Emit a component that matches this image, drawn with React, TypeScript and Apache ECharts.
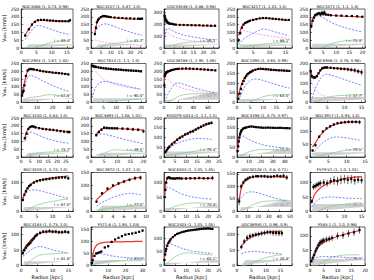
import React, { useEffect, useRef } from "react";
import * as echarts from "echarts";

// ---------- data ----------
const TITLES = [
  "NGC4088 (1, 0.74, 0.98)", "NGC4157 (1, 0.87, 1.0)", "UGC03546 (1, 0.88, 0.98)", "NGC4217 (1, 1.01, 1.0)", "NGC5371 (1, 1.1, 1.0)",
  "NGC2903 (1, 1.67, 1.02)", "NGC7814 (1, 1.1, 1.0)", "UGC06786 (1, 1.95, 1.06)", "NGC1090 (1, 0.65, 0.99)", "NGC6946 (1, 0.76, 0.98)",
  "NGC4100 (1, 0.83, 1.0)", "NGC3893 (1, 1.08, 1.01)", "ESO079-G014 (1, 1.1, 1.0)", "NGC3198 (1, 0.75, 0.97)", "NGC3917 (1, 0.94, 1.0)",
  "NGC4559 (1, 0.74, 1.0)", "NGC3972 (1, 1.07, 1.0)", "NGC6503 (1, 1.05, 1.05)", "UGC00128 (1, 0.8, 0.71)", "F579-V1 (1, 1.0, 1.01)",
  "NGC4183 (1, 0.73, 1.0)", "F571-8 (1, 1.93, 1.03)", "NGC2403 (1, 1.05, 1.05)", "UGC06930 (1, 0.96, 0.9)", "F583-1 (1, 1.0, 0.96)",
];
const INCL = ["69.4", "81.7", "56.1", "88.1", "75.3", "67.6", "90.0", "67.7", "63.5", "37.7", "73.7", "49.5", "79.4", "71.3", "79.5", "67.0", "77.0", "74.8", "40.7", "26.3", "81.8", "87.1", "63.1", "28.8", "38.3"];
const X_MAX = [17, 28, 28, 17, 21, 33, 22, 75, 21, 16, 29, 21, 25, 46, 15, 16.5, 10, 25, 52, 16, 16.5, 32, 25, 19, 20];
const X_STEP = [5, 5, 5, 5, 5, 10, 5, 20, 5, 5, 5, 5, 5, 10, 5, 5, 2, 5, 10, 5, 5, 10, 5, 5, 5];
const Y_MAX = [250, 250, 330, 250, 250, 250, 250, 250, 200, 200, 250, 250, 200, 200, 150, 135, 150, 135, 155, 135, 125, 160, 140, 125, 130];
const Y_STEP = [50, 50, 100, 50, 50, 50, 50, 50, 50, 50, 50, 50, 50, 50, 50, 50, 50, 50, 50, 50, 50, 50, 50, 50, 50];
const BAND = [12, 12, 15, 12, 14, 12, 14, 9, 9, 14, 14, 14, 14, 8, 9, 8, 11, 6, 9, 13, 7, 11, 5, 9, 11];

const ngc4088R = [1.3, 2.5, 3.5, 4.5, 5.5, 6.5, 7.5, 8.5, 9.5, 10.5, 11.5, 12.5, 13.5, 14.5, 15.5, 16];
const ngc4088V = [80, 120, 150, 168, 178, 180, 180, 178, 176, 175, 173, 172, 172, 172, 172, 178];
const ngc4088Err = [8, 6, 6, 5, 5, 5, 5, 5, 5, 5, 5, 5, 5, 5, 6, 8];
const ngc4088Fit = [85, 120, 150, 170, 178, 178, 177, 176, 175, 174, 173, 172, 171, 170, 170, 170];
const ngc4088Disk = [55, 90, 115, 135, 145, 142, 135, 128, 122, 115, 108, 102, 97, 92, 88, 85];
const ngc4088Gas = [0, 0, 0, 2, 8, 15, 22, 28, 33, 37, 40, 42, 44, 45, 45, 45];

const ngc4157R = [2, 2.5, 3, 3.5, 4, 5, 6, 7, 8, 9, 10, 12, 14, 16, 18, 20, 22, 24, 25, 26];
const ngc4157V = [90, 130, 165, 178, 188, 198, 205, 205, 202, 200, 198, 195, 193, 192, 190, 190, 188, 188, 187, 188];
const ngc4157Err = [10, 8, 6, 6, 5, 5, 5, 5, 5, 5, 5, 5, 5, 5, 5, 5, 5, 6, 6, 6];
const ngc4157Fit = [100, 135, 160, 175, 185, 195, 200, 200, 199, 198, 196, 194, 192, 190, 188, 187, 186, 185, 184, 184];
const ngc4157Disk = [95, 110, 120, 130, 138, 148, 153, 155, 153, 150, 146, 138, 128, 118, 110, 102, 95, 88, 85, 82];
const ngc4157Bulge = [52, 50, 48, 46, 44, 41, 38, 36, 34, 32, 30, 28, 26, 24, 22, 20, 19, 18, 17, 17];
const ngc4157Gas = [0, 0, 0, 0, 0, 5, 12, 18, 22, 25, 28, 30, 32, 35, 38, 40, 42, 44, 45, 45];

const ugc03546R = [0.3, 0.6, 1, 1.5, 2, 2.5, 3, 4, 5, 6, 8, 10, 12, 14, 16, 18, 20, 22, 24, 26];
const ugc03546V = [270, 250, 235, 225, 215, 210, 205, 205, 200, 198, 195, 195, 194, 193, 192, 192, 190, 190, 188, 188];
const ugc03546Err = [40, 35, 30, 20, 15, 10, 8, 8, 6, 6, 6, 6, 6, 6, 6, 6, 6, 6, 8, 10];
const ugc03546Fit = [260, 245, 230, 220, 212, 207, 203, 200, 198, 197, 196, 195, 194, 193, 192, 191, 190, 189, 188, 187];
const ugc03546Disk = [60, 110, 145, 160, 165, 164, 160, 150, 140, 132, 120, 110, 102, 95, 90, 85, 80, 75, 72, 70];
const ugc03546Bulge = [190, 165, 150, 140, 130, 122, 115, 105, 97, 90, 80, 72, 66, 61, 57, 54, 51, 48, 46, 45];
const ugc03546Gas = [0, 2, 5, 8, 12, 15, 18, 22, 26, 30, 38, 44, 48, 50, 52, 53, 54, 55, 55, 55];

const ngc4217R = [0.5, 1, 1.5, 2, 2.5, 3, 3.5, 4, 5, 6, 7, 8, 9, 10, 11, 12, 13, 14, 15, 16];
const ngc4217V = [50, 95, 130, 150, 160, 165, 170, 175, 180, 185, 190, 192, 192, 190, 188, 186, 184, 182, 180, 180];
const ngc4217Err = [15, 10, 8, 6, 5, 5, 5, 5, 5, 5, 5, 5, 5, 5, 5, 5, 5, 5, 5, 5];
const ngc4217Fit = [80, 110, 135, 150, 160, 166, 171, 175, 181, 186, 189, 190, 190, 189, 187, 185, 183, 181, 179, 178];
const ngc4217Disk = [20, 35, 48, 58, 65, 72, 78, 84, 95, 105, 115, 122, 120, 115, 108, 102, 96, 90, 85, 80];
const ngc4217Bulge = [80, 100, 110, 112, 110, 108, 105, 102, 97, 92, 88, 84, 80, 77, 74, 71, 68, 66, 64, 62];
const ngc4217Gas = [0, 0, 2, 5, 8, 10, 12, 14, 17, 20, 22, 25, 27, 29, 31, 32, 33, 34, 35, 35];

const ngc5371R = [0.5, 1, 1.5, 2, 2.5, 3, 3.5, 4, 4.5, 5, 5.5, 6, 7, 8, 10, 12, 14, 16, 18, 20];
const ngc5371V = [140, 175, 195, 210, 215, 220, 222, 215, 225, 220, 228, 215, 212, 210, 208, 207, 205, 205, 203, 200];
const ngc5371Err = [10, 10, 8, 8, 8, 8, 10, 12, 15, 15, 15, 10, 8, 6, 6, 6, 6, 6, 6, 6];
const ngc5371Fit = [150, 185, 205, 215, 220, 222, 222, 221, 220, 218, 217, 215, 212, 210, 207, 205, 203, 202, 201, 200];
const ngc5371Disk = [125, 160, 185, 198, 205, 207, 206, 203, 199, 195, 190, 185, 175, 165, 150, 138, 127, 118, 110, 103];
const ngc5371Gas = [0, 0, 0, 0, 0, 0, 0, 0, 2, 5, 8, 12, 20, 27, 36, 43, 47, 50, 50, 50];

const ngc2903R = [0.5, 1, 1.5, 2, 3, 4, 5, 6, 7, 8, 10, 12, 14, 16, 18, 20, 22, 24, 26, 28, 30];
const ngc2903V = [45, 65, 75, 110, 170, 205, 212, 215, 213, 212, 208, 204, 200, 197, 195, 192, 190, 188, 186, 183, 180];
const ngc2903Err = [10, 10, 8, 8, 6, 5, 5, 5, 5, 5, 5, 5, 5, 5, 5, 5, 5, 5, 5, 5, 6];
const ngc2903Fit = [60, 80, 100, 125, 170, 200, 212, 214, 213, 211, 207, 203, 200, 197, 195, 192, 190, 188, 186, 184, 182];
const ngc2903Disk = [40, 60, 80, 100, 135, 160, 172, 175, 172, 168, 158, 148, 137, 128, 118, 108, 100, 92, 85, 78, 72];
const ngc2903Gas = [0, 0, 5, 15, 25, 30, 32, 33, 34, 35, 37, 40, 45, 48, 50, 50, 48, 45, 42, 40, 38];

const ngc7814R = [0.5, 1, 1.5, 2, 3, 4, 5, 6, 7, 8, 9, 10, 11, 12, 13, 14, 15, 16, 17, 18, 19, 20];
const ngc7814V = [235, 232, 230, 228, 225, 222, 220, 218, 216, 215, 213, 212, 211, 210, 208, 207, 206, 205, 204, 203, 202, 200];
const ngc7814Err = [10, 10, 9, 9, 8, 8, 8, 8, 8, 8, 8, 8, 8, 8, 8, 8, 8, 8, 8, 8, 8, 8];
const ngc7814Fit = [240, 235, 231, 228, 224, 221, 219, 217, 215, 214, 212, 211, 210, 209, 207, 206, 205, 204, 203, 202, 201, 200];
const ngc7814Disk = [30, 60, 85, 100, 120, 130, 135, 135, 133, 130, 126, 122, 118, 114, 110, 106, 102, 98, 95, 92, 88, 85];
const ngc7814Bulge = [240, 225, 210, 198, 178, 162, 150, 140, 132, 125, 119, 114, 110, 106, 102, 99, 96, 93, 91, 89, 87, 85];
const ngc7814Gas = [0, 0, 0, 0, 0, 0, 0, 2, 4, 6, 8, 10, 12, 13, 14, 15, 16, 17, 18, 19, 20, 20];

const ugc06786R = [0.5, 1, 1.5, 2, 3, 4, 5, 6, 8, 10, 12, 15, 18, 20, 25, 30, 35, 40, 45, 50, 55, 60, 65, 70];
const ugc06786V = [110, 170, 180, 185, 190, 195, 198, 200, 203, 207, 210, 213, 215, 216, 217, 218, 217, 216, 215, 213, 212, 210, 208, 206];
const ugc06786Err = [15, 10, 8, 6, 5, 5, 5, 5, 5, 5, 5, 5, 5, 5, 5, 5, 5, 5, 5, 5, 5, 5, 6, 6];
const ugc06786Fit = [130, 165, 178, 184, 190, 194, 197, 200, 203, 206, 209, 212, 214, 215, 216, 216, 215, 214, 213, 212, 211, 209, 207, 205];
const ugc06786Disk = [5, 10, 15, 20, 30, 40, 50, 60, 75, 90, 105, 120, 125, 125, 120, 112, 104, 96, 89, 83, 77, 72, 67, 63];
const ugc06786Bulge = [180, 185, 180, 175, 165, 158, 150, 145, 135, 127, 120, 111, 104, 100, 92, 86, 80, 75, 71, 68, 65, 62, 60, 58];
const ugc06786Gas = [0, 0, 0, 0, 0, 2, 4, 6, 10, 15, 20, 28, 35, 40, 48, 52, 55, 56, 56, 56, 56, 55, 55, 55];

const ngc1090R = [0.5, 1, 1.5, 2, 2.5, 3, 3.5, 4, 4.5, 5, 5.5, 6, 7, 8, 9, 10, 11, 12, 13, 14, 15, 16, 17, 18, 19, 20];
const ngc1090V = [20, 45, 70, 95, 110, 125, 135, 145, 150, 155, 158, 163, 168, 172, 173, 172, 171, 170, 168, 167, 166, 165, 165, 164, 163, 162];
const ngc1090Err = [5, 5, 5, 5, 5, 5, 5, 5, 5, 5, 5, 5, 5, 5, 5, 5, 5, 5, 5, 5, 5, 5, 5, 5, 5, 5];
const ngc1090Fit = [30, 60, 85, 103, 118, 130, 140, 147, 153, 158, 162, 165, 168, 170, 170, 170, 169, 168, 167, 166, 165, 164, 163, 162, 161, 160];
const ngc1090Disk = [10, 25, 40, 55, 70, 82, 92, 100, 107, 112, 116, 118, 120, 119, 117, 113, 109, 105, 100, 96, 92, 88, 84, 80, 77, 74];
const ngc1090Gas = [0, 0, 0, 0, 0, 0, 0, 0, 0, 2, 5, 8, 14, 20, 25, 30, 33, 36, 38, 39, 40, 40, 41, 41, 41, 41];

const ngc6946R = [0.2, 0.5, 1, 1.5, 2, 2.5, 3, 3.5, 4, 4.5, 5, 6, 7, 8, 9, 10, 11, 12, 13, 14, 15];
const ngc6946V = [160, 135, 128, 128, 135, 150, 165, 175, 178, 180, 180, 178, 176, 175, 173, 172, 170, 168, 165, 160, 155];
const ngc6946Err = [15, 10, 8, 6, 6, 6, 6, 6, 6, 6, 6, 6, 6, 6, 8, 8, 10, 10, 12, 12, 15];
const ngc6946Fit = [165, 140, 130, 130, 138, 152, 165, 173, 177, 178, 178, 177, 176, 175, 174, 172, 170, 167, 164, 160, 157];
const ngc6946Disk = [5, 20, 45, 70, 90, 108, 122, 133, 140, 144, 145, 142, 136, 130, 124, 118, 112, 106, 100, 94, 88];
const ngc6946Bulge = [150, 110, 80, 65, 55, 48, 42, 38, 35, 32, 30, 27, 25, 24, 23, 22, 22, 22, 22, 21, 21];
const ngc6946Gas = [0, 0, 2, 5, 8, 11, 14, 17, 20, 23, 25, 30, 33, 35, 36, 36, 38, 40, 40, 38, 36];

const ngc4100R = [2, 3, 4, 5, 6, 7, 8, 10, 12, 14, 16, 18, 20, 22, 24, 26, 27];
const ngc4100V = [120, 150, 180, 192, 197, 195, 190, 185, 180, 178, 175, 173, 170, 166, 162, 160, 160];
const ngc4100Err = [8, 8, 8, 8, 8, 8, 8, 8, 8, 8, 8, 8, 8, 8, 8, 8, 8];
const ngc4100Fit = [125, 160, 185, 195, 196, 193, 190, 185, 181, 178, 175, 172, 170, 168, 166, 165, 164];
const ngc4100Disk = [100, 125, 150, 160, 158, 153, 148, 138, 128, 120, 112, 106, 100, 96, 92, 89, 88];
const ngc4100Gas = [0, 3, 8, 15, 20, 22, 24, 27, 29, 31, 32, 33, 34, 35, 36, 36, 37];

const ngc3893R = [2, 3, 4, 5, 6, 7, 8, 9, 10, 12, 14, 16, 18, 20];
const ngc3893V = [140, 160, 175, 188, 186, 185, 184, 184, 183, 182, 180, 177, 175, 165];
const ngc3893Err = [10, 10, 10, 10, 10, 8, 8, 8, 8, 8, 10, 10, 10, 12];
const ngc3893Fit = [145, 165, 178, 185, 186, 185, 184, 184, 183, 181, 179, 177, 175, 173];
const ngc3893Disk = [140, 145, 147, 146, 143, 139, 135, 130, 126, 117, 108, 100, 92, 85];
const ngc3893Gas = [15, 16, 18, 22, 30, 38, 44, 47, 46, 44, 42, 40, 37, 35];

const eso079R = [0.6, 1.2, 1.8, 2.4, 3.6, 4.8, 6, 7.2, 8.4, 9.6, 10.8, 12, 13.2, 14.4, 15.6, 16.8, 18, 19.2, 20.4, 21.6];
const eso079V = [25, 35, 45, 52, 65, 75, 88, 98, 105, 115, 120, 128, 132, 140, 148, 155, 162, 168, 172, 175];
const eso079Err = [8, 8, 8, 8, 8, 8, 8, 8, 8, 8, 8, 8, 8, 8, 8, 8, 8, 8, 8, 8];
const eso079Fit = [25, 35, 45, 55, 68, 80, 90, 100, 108, 115, 122, 129, 136, 142, 148, 154, 160, 166, 170, 175];
const eso079Disk = [20, 30, 38, 45, 55, 63, 70, 76, 81, 85, 88, 91, 93, 94, 95, 95, 94, 93, 92, 90];
const eso079Gas = [5, 7, 9, 10, 12, 14, 16, 18, 20, 22, 24, 26, 28, 30, 33, 36, 38, 40, 41, 42];

const ngc3198R = [0.5, 1, 1.5, 2, 2.5, 3, 3.5, 4, 5, 6, 7, 8, 10, 12, 14, 16, 18, 20, 22, 24, 26, 28, 30, 32, 34, 36, 38, 40, 42, 44];
const ngc3198V = [30, 55, 80, 100, 115, 125, 133, 138, 145, 148, 150, 152, 155, 157, 155, 153, 152, 151, 150, 150, 151, 150, 150, 149, 149, 150, 149, 148, 148, 147];
const ngc3198Err = [4, 4, 4, 4, 4, 4, 4, 4, 4, 4, 4, 4, 4, 4, 4, 4, 4, 4, 4, 4, 4, 4, 4, 4, 4, 4, 4, 4, 4, 4];
const ngc3198Fit = [35, 65, 90, 108, 120, 128, 135, 140, 146, 150, 152, 154, 155, 155, 154, 153, 152, 151, 150, 150, 150, 150, 150, 149, 149, 149, 148, 148, 148, 147];
const ngc3198Disk = [30, 55, 75, 90, 100, 106, 109, 110, 108, 104, 100, 97, 90, 84, 78, 73, 69, 65, 62, 59, 57, 55, 53, 51, 50, 49, 48, 47, 46, 45];
const ngc3198Gas = [0, 0, 0, 0, 2, 5, 8, 10, 14, 17, 20, 22, 26, 30, 33, 35, 37, 38, 38, 38, 38, 38, 37, 37, 37, 37, 36, 36, 36, 36];

const ngc3917R = [0.7, 1.5, 2.5, 3.5, 4.5, 5.5, 6.5, 7.5, 8.5, 9.5, 10.5, 11.5, 12.5, 13.5];
const ngc3917V = [25, 45, 78, 98, 110, 118, 125, 130, 132, 134, 135, 135, 135, 134];
const ngc3917Err = [5, 5, 5, 5, 5, 5, 5, 5, 5, 6, 6, 6, 6, 8];
const ngc3917Fit = [38, 55, 78, 95, 108, 117, 124, 128, 131, 133, 134, 135, 135, 135];
const ngc3917Disk = [10, 25, 42, 55, 65, 72, 76, 77, 76, 74, 72, 70, 67, 65];
const ngc3917Gas = [0, 0, 3, 7, 11, 14, 17, 20, 23, 25, 27, 29, 30, 31];

const ngc4559R = [0.5, 1, 1.5, 2, 2.5, 3, 4, 5, 6, 7, 8, 9, 10, 11, 12, 13, 14, 15];
const ngc4559V = [40, 58, 70, 80, 88, 92, 100, 105, 108, 110, 112, 113, 115, 116, 117, 118, 118, 115];
const ngc4559Err = [5, 5, 5, 5, 5, 5, 5, 5, 5, 5, 5, 5, 5, 5, 5, 5, 5, 6];
const ngc4559Fit = [45, 60, 72, 82, 89, 94, 101, 106, 109, 111, 113, 115, 117, 118, 120, 121, 122, 123];
const ngc4559Disk = [42, 55, 63, 68, 72, 74, 75, 74, 72, 69, 66, 63, 60, 57, 54, 51, 48, 46];
const ngc4559Gas = [0, 0, 3, 6, 10, 13, 18, 22, 25, 28, 31, 33, 35, 37, 39, 41, 42, 43];

const ngc3972R = [1, 2, 3, 4, 5, 6, 7, 8, 9];
const ngc3972V = [38, 70, 88, 100, 108, 115, 122, 128, 130];
const ngc3972Err = [5, 5, 6, 6, 6, 6, 6, 8, 8];
const ngc3972Fit = [45, 65, 82, 96, 107, 116, 123, 128, 132];
const ngc3972Disk = [20, 35, 45, 55, 62, 67, 70, 68, 64];
const ngc3972Gas = [5, 8, 11, 14, 17, 20, 22, 24, 26];

const ngc6503R = [0.3, 0.6, 1, 1.5, 2, 2.5, 3, 4, 5, 6, 7, 8, 10, 12, 14, 16, 18, 20, 22];
const ngc6503V = [50, 75, 100, 115, 118, 117, 115, 114, 114, 115, 115, 114, 114, 115, 115, 116, 115, 115, 116];
const ngc6503Err = [4, 4, 4, 4, 4, 4, 4, 4, 4, 4, 4, 4, 4, 4, 4, 4, 4, 4, 8];
const ngc6503Fit = [55, 85, 105, 115, 118, 118, 117, 116, 115, 115, 115, 115, 115, 115, 115, 115, 115, 115, 115];
const ngc6503Disk = [45, 65, 78, 84, 85, 83, 80, 76, 72, 68, 64, 61, 56, 52, 49, 47, 45, 44, 43];
const ngc6503Gas = [0, 0, 2, 5, 8, 10, 12, 15, 18, 20, 22, 24, 27, 29, 30, 30, 29, 28, 27];

const ugc00128R = [2, 4, 6, 8, 10, 12, 15, 18, 20, 23, 26, 29, 32, 35, 38, 41, 44, 47];
const ugc00128V = [40, 100, 115, 125, 130, 135, 138, 140, 140, 140, 140, 138, 138, 140, 142, 140, 142, 135];
const ugc00128Err = [15, 10, 8, 8, 8, 6, 6, 6, 6, 6, 6, 6, 6, 6, 6, 6, 8, 10];
const ugc00128Fit = [45, 95, 115, 125, 131, 134, 137, 139, 140, 140, 140, 140, 139, 139, 138, 138, 137, 136];
const ugc00128Disk = [40, 55, 65, 72, 76, 78, 78, 76, 74, 70, 66, 62, 58, 54, 51, 48, 45, 42];
const ugc00128Gas = [0, 2, 6, 10, 15, 20, 27, 32, 35, 38, 40, 41, 42, 42, 43, 44, 44, 45];

const f579R = [0.5, 1, 1.5, 2, 2.5, 3, 4, 5, 6, 7, 8, 9, 10, 11, 12, 13, 14, 15];
const f579V = [35, 85, 88, 92, 95, 98, 100, 98, 105, 108, 105, 110, 112, 110, 112, 108, 110, 108];
const f579Err = [8, 10, 10, 10, 10, 10, 12, 12, 12, 15, 15, 15, 15, 15, 15, 15, 12, 12];
const f579Fit = [30, 50, 62, 70, 76, 82, 90, 96, 101, 105, 108, 111, 114, 116, 118, 119, 120, 121];
const f579Disk = [15, 25, 32, 38, 42, 45, 48, 50, 50, 50, 49, 48, 47, 46, 46, 45, 45, 44];
const f579Gas = [0, 0, 0, 0, 2, 5, 10, 14, 17, 20, 22, 24, 25, 27, 28, 29, 30, 30];

const ngc4183R = [0.5, 1, 1.5, 2, 2.5, 3, 3.5, 4, 4.5, 5, 6, 7, 8, 9, 10, 11, 12, 13, 14, 15];
const ngc4183V = [40, 50, 58, 65, 70, 75, 82, 88, 95, 100, 106, 110, 110, 112, 110, 110, 108, 108, 110, 108];
const ngc4183Err = [6, 6, 6, 6, 6, 6, 6, 6, 6, 6, 6, 6, 6, 6, 6, 6, 6, 6, 6, 6];
const ngc4183Fit = [42, 55, 63, 70, 76, 82, 87, 92, 96, 100, 105, 108, 109, 109, 109, 109, 108, 108, 108, 108];
const ngc4183Disk = [30, 33, 37, 42, 46, 50, 53, 56, 58, 60, 62, 60, 57, 54, 51, 48, 46, 44, 42, 40];
const ngc4183Gas = [0, 0, 3, 7, 12, 16, 20, 24, 27, 30, 34, 36, 37, 38, 38, 39, 39, 40, 40, 40];

const f571R = [0.5, 1, 2, 3, 4, 5, 6, 8, 10, 12, 14, 16, 18, 20, 22, 24, 26, 28, 30];
const f571V = [10, 22, 40, 50, 52, 55, 58, 75, 80, 98, 108, 115, 122, 128, 131, 133, 136, 140, 145];
const f571Err = [4, 4, 4, 4, 4, 4, 4, 4, 4, 4, 4, 4, 4, 4, 4, 4, 4, 4, 5];
const f571Fit = [25, 45, 70, 82, 88, 92, 94, 96, 97, 97, 98, 98, 98, 99, 99, 99, 100, 100, 100];
const f571Disk = [10, 25, 40, 47, 50, 50, 49, 46, 43, 40, 38, 36, 34, 33, 32, 31, 30, 30, 29];
const f571Gas = [0, 2, 5, 8, 10, 12, 14, 16, 18, 19, 20, 20, 20, 20, 20, 20, 20, 20, 20];

const ngc2403R = [0.2, 0.5, 0.8, 1, 1.5, 2, 2.5, 3, 4, 5, 6, 7, 8, 9, 10, 11, 12, 13, 14, 15, 16, 17, 18, 19, 20, 21, 22];
const ngc2403V = [20, 40, 52, 60, 72, 82, 88, 95, 103, 110, 115, 118, 121, 123, 125, 127, 128, 129, 130, 131, 132, 133, 134, 134, 135, 134, 133];
const ngc2403Err = [3, 3, 3, 3, 3, 3, 3, 3, 3, 3, 3, 3, 3, 3, 3, 3, 3, 3, 3, 3, 3, 3, 3, 3, 3, 3, 3];
const ngc2403Fit = [25, 45, 55, 62, 74, 84, 90, 96, 104, 110, 115, 118, 121, 123, 125, 127, 128, 129, 130, 131, 132, 132, 133, 133, 134, 134, 134];
const ngc2403Disk = [45, 62, 72, 76, 80, 81, 80, 79, 76, 72, 69, 66, 63, 60, 58, 56, 54, 52, 51, 50, 49, 48, 47, 46, 45, 45, 44];
const ngc2403Gas = [0, 0, 2, 4, 8, 12, 16, 20, 26, 32, 36, 40, 43, 45, 46, 46, 46, 45, 44, 43, 42, 41, 40, 40, 39, 39, 38];

const ugc06930R = [1.5, 2.5, 3.5, 4.5, 5.5, 6.5, 7.5, 8.5, 9.5, 10.5, 11.5, 12.5, 13.5, 14.5, 15.5];
const ugc06930V = [60, 78, 90, 95, 98, 100, 102, 104, 106, 108, 108, 106, 106, 105, 105];
const ugc06930Err = [8, 8, 10, 10, 8, 8, 8, 8, 8, 8, 8, 10, 10, 10, 10];
const ugc06930Fit = [62, 75, 84, 90, 95, 99, 102, 104, 106, 108, 109, 110, 110, 111, 111];
const ugc06930Disk = [38, 42, 44, 45, 46, 46, 45, 44, 43, 42, 41, 40, 39, 38, 37];
const ugc06930Gas = [0, 0, 2, 5, 9, 13, 17, 21, 24, 27, 29, 31, 33, 34, 35];

const f583R = [0.5, 1, 1.5, 2, 2.5, 3, 3.5, 4, 4.5, 5, 6, 7, 8, 10, 12, 14, 16, 18];
const f583V = [15, 25, 35, 48, 58, 68, 75, 80, 82, 85, 88, 90, 93, 100, 102, 108, 112, 120];
const f583Err = [5, 8, 8, 10, 10, 10, 10, 10, 10, 10, 10, 10, 10, 12, 12, 12, 12, 12];
const f583Fit = [15, 28, 40, 50, 57, 63, 68, 72, 75, 78, 83, 87, 91, 98, 104, 109, 114, 118];
const f583Disk = [8, 15, 20, 24, 27, 28, 29, 30, 30, 30, 30, 30, 30, 29, 28, 27, 26, 25];
const f583Gas = [0, 0, 0, 0, 0, 2, 5, 8, 11, 14, 19, 23, 27, 32, 35, 36, 36, 36];

type Gal = { r: number[]; v: number[]; e: number[]; fit: number[]; disk: number[]; gas: number[]; bulge?: number[] };
const GALAXIES: Gal[] = [
  { r: ngc4088R, v: ngc4088V, e: ngc4088Err, fit: ngc4088Fit, disk: ngc4088Disk, gas: ngc4088Gas },
  { r: ngc4157R, v: ngc4157V, e: ngc4157Err, fit: ngc4157Fit, disk: ngc4157Disk, gas: ngc4157Gas, bulge: ngc4157Bulge },
  { r: ugc03546R, v: ugc03546V, e: ugc03546Err, fit: ugc03546Fit, disk: ugc03546Disk, gas: ugc03546Gas, bulge: ugc03546Bulge },
  { r: ngc4217R, v: ngc4217V, e: ngc4217Err, fit: ngc4217Fit, disk: ngc4217Disk, gas: ngc4217Gas, bulge: ngc4217Bulge },
  { r: ngc5371R, v: ngc5371V, e: ngc5371Err, fit: ngc5371Fit, disk: ngc5371Disk, gas: ngc5371Gas },
  { r: ngc2903R, v: ngc2903V, e: ngc2903Err, fit: ngc2903Fit, disk: ngc2903Disk, gas: ngc2903Gas },
  { r: ngc7814R, v: ngc7814V, e: ngc7814Err, fit: ngc7814Fit, disk: ngc7814Disk, gas: ngc7814Gas, bulge: ngc7814Bulge },
  { r: ugc06786R, v: ugc06786V, e: ugc06786Err, fit: ugc06786Fit, disk: ugc06786Disk, gas: ugc06786Gas, bulge: ugc06786Bulge },
  { r: ngc1090R, v: ngc1090V, e: ngc1090Err, fit: ngc1090Fit, disk: ngc1090Disk, gas: ngc1090Gas },
  { r: ngc6946R, v: ngc6946V, e: ngc6946Err, fit: ngc6946Fit, disk: ngc6946Disk, gas: ngc6946Gas, bulge: ngc6946Bulge },
  { r: ngc4100R, v: ngc4100V, e: ngc4100Err, fit: ngc4100Fit, disk: ngc4100Disk, gas: ngc4100Gas },
  { r: ngc3893R, v: ngc3893V, e: ngc3893Err, fit: ngc3893Fit, disk: ngc3893Disk, gas: ngc3893Gas },
  { r: eso079R, v: eso079V, e: eso079Err, fit: eso079Fit, disk: eso079Disk, gas: eso079Gas },
  { r: ngc3198R, v: ngc3198V, e: ngc3198Err, fit: ngc3198Fit, disk: ngc3198Disk, gas: ngc3198Gas },
  { r: ngc3917R, v: ngc3917V, e: ngc3917Err, fit: ngc3917Fit, disk: ngc3917Disk, gas: ngc3917Gas },
  { r: ngc4559R, v: ngc4559V, e: ngc4559Err, fit: ngc4559Fit, disk: ngc4559Disk, gas: ngc4559Gas },
  { r: ngc3972R, v: ngc3972V, e: ngc3972Err, fit: ngc3972Fit, disk: ngc3972Disk, gas: ngc3972Gas },
  { r: ngc6503R, v: ngc6503V, e: ngc6503Err, fit: ngc6503Fit, disk: ngc6503Disk, gas: ngc6503Gas },
  { r: ugc00128R, v: ugc00128V, e: ugc00128Err, fit: ugc00128Fit, disk: ugc00128Disk, gas: ugc00128Gas },
  { r: f579R, v: f579V, e: f579Err, fit: f579Fit, disk: f579Disk, gas: f579Gas },
  { r: ngc4183R, v: ngc4183V, e: ngc4183Err, fit: ngc4183Fit, disk: ngc4183Disk, gas: ngc4183Gas },
  { r: f571R, v: f571V, e: f571Err, fit: f571Fit, disk: f571Disk, gas: f571Gas },
  { r: ngc2403R, v: ngc2403V, e: ngc2403Err, fit: ngc2403Fit, disk: ngc2403Disk, gas: ngc2403Gas },
  { r: ugc06930R, v: ugc06930V, e: ugc06930Err, fit: ugc06930Fit, disk: ugc06930Disk, gas: ugc06930Gas },
  { r: f583R, v: f583V, e: f583Err, fit: f583Fit, disk: f583Disk, gas: f583Gas },
];

// ---------- layout / style ----------
const FONT = "DejaVu Sans";
const COL_LEFT = [18, 91, 164, 237, 310];
const ROW_TOP = [9, 63.5, 118, 172.5, 227];
const PW = 55;
const PH = 39;

function stepFormatter(step: number) {
  return (v: number) => {
    const q = v / step;
    return Math.abs(q - Math.round(q)) < 1e-6 ? String(Math.round(v)) : "";
  };
}

function buildOption() {
  const grid: any[] = [];
  const xAxis: any[] = [];
  const yAxis: any[] = [];
  const series: any[] = [];
  const graphic: any[] = [];

  GALAXIES.forEach((g, k) => {
    const row = Math.floor(k / 5);
    const col = k % 5;
    const left = COL_LEFT[col];
    const top = ROW_TOP[row];
    grid.push({ left, top, width: PW, height: PH, show: true, borderColor: "#000", borderWidth: 0.6, backgroundColor: "transparent" });

    const axisCommon = {
      axisLine: { show: true, onZero: false, lineStyle: { color: "#000", width: 0.6 } },
      axisTick: { show: true, inside: true, length: 2, lineStyle: { color: "#000", width: 0.5 } },
      splitLine: { show: false },
    };
    xAxis.push({
      type: "value", gridIndex: k, min: 0, max: X_MAX[k], interval: X_STEP[k], ...axisCommon,
      axisLabel: { fontSize: 4.5, fontFamily: FONT, color: "#000", margin: 2, formatter: stepFormatter(X_STEP[k]) },
      name: row === 4 ? "Radius [kpc]" : "",
      nameLocation: "middle", nameGap: 8.5,
      nameTextStyle: { fontSize: 5, fontFamily: FONT, color: "#000" },
    });
    yAxis.push({
      type: "value", gridIndex: k, min: 0, max: Y_MAX[k], interval: Y_STEP[k], ...axisCommon,
      axisLabel: { fontSize: 4.5, fontFamily: FONT, color: "#000", margin: 2, formatter: stepFormatter(Y_STEP[k]) },
      name: col === 0 ? "{v|V}{s|obs}{t| [km/s]}" : "",
      nameLocation: "middle", nameGap: 12.5, nameRotate: 90,
      nameTextStyle: {
        fontSize: 5, fontFamily: FONT, color: "#000",
        rich: {
          v: { fontSize: 5, fontFamily: FONT, color: "#000" },
          s: { fontSize: 3.5, fontFamily: FONT, color: "#000", padding: [2.5, 0, 0, 0] },
          t: { fontSize: 5, fontFamily: FONT, color: "#000" },
        },
      },
    });

    const base = { xAxisIndex: k, yAxisIndex: k, symbol: "none", silent: true, smooth: false };
    // grey uncertainty band around the fit
    series.push({
      ...base, type: "line", stack: "band" + k, z: 1,
      data: g.r.map((r, i) => [r, Math.max(0, g.fit[i] - BAND[k])]),
      lineStyle: { width: 0, opacity: 0 },
    });
    series.push({
      ...base, type: "line", stack: "band" + k, z: 1,
      data: g.r.map((r, i) => [r, 2 * BAND[k]]),
      lineStyle: { width: 0, opacity: 0 },
      areaStyle: { color: "#bdbdbd", opacity: 0.7 },
    });
    // components
    series.push({
      ...base, type: "line", z: 2,
      data: g.r.map((r, i) => [r, g.gas[i]]),
      lineStyle: { color: "#82c882", width: 0.7 },
    });
    if (g.bulge) {
      series.push({
        ...base, type: "line", z: 2,
        data: g.r.map((r, i) => [r, g.bulge![i]]),
        lineStyle: { color: "#ea8cea", width: 0.8, type: [2, 1.5] },
      });
    }
    series.push({
      ...base, type: "line", z: 2,
      data: g.r.map((r, i) => [r, g.disk[i]]),
      lineStyle: { color: "#5a5aff", width: 0.8, type: [2, 1.5] },
    });
    series.push({
      ...base, type: "line", z: 3,
      data: g.r.map((r, i) => [r, g.fit[i]]),
      lineStyle: { color: "#f0322d", width: 1.2 },
    });
    // observed points with error bars
    series.push({
      type: "custom", xAxisIndex: k, yAxisIndex: k, z: 4, silent: true,
      data: g.r.map((r, i) => [r, g.v[i], g.e[i]]),
      encode: { x: 0, y: 1 },
      renderItem: (params: any, api: any) => {
        const x = api.value(0);
        const y = api.value(1);
        const e = api.value(2);
        const p = api.coord([x, y]);
        const lo = api.coord([x, y - e]);
        const hi = api.coord([x, y + e]);
        return {
          type: "group",
          children: [
            { type: "line", shape: { x1: p[0], y1: lo[1], x2: p[0], y2: hi[1] }, style: { stroke: "#000", lineWidth: 0.6 } },
            { type: "rect", shape: { x: p[0] - 1.1, y: p[1] - 1.1, width: 2.2, height: 2.2 }, style: { fill: "#000" } },
          ],
        };
      },
    });

    graphic.push({
      type: "text", x: left + PW / 2, y: top - 0.8,
      style: { text: TITLES[k], fontSize: 3.8, fontFamily: FONT, fill: "#000", align: "center", verticalAlign: "bottom", textAlign: "center", textVerticalAlign: "bottom" },
    });
    graphic.push({
      type: "text", x: left + PW - 2, y: top + PH * 0.82,
      style: { text: "i = " + INCL[k] + "°", fontSize: 3.8, fontFamily: FONT, fill: "#000", align: "right", verticalAlign: "middle", textAlign: "right", textVerticalAlign: "middle" },
    });
  });

  return { animation: false, backgroundColor: "#fff", grid, xAxis, yAxis, series, graphic };
}

export default function App() {
  const ref = useRef<HTMLDivElement>(null);
  useEffect(() => {
    document.body.style.margin = "0";
    if (!ref.current) return;
    const chart = echarts.init(ref.current, undefined, { renderer: "svg" });
    chart.setOption(buildOption() as any);
    return () => chart.dispose();
  }, []);
  return <div ref={ref} style={{ width: 374, height: 280 }} />;
}
